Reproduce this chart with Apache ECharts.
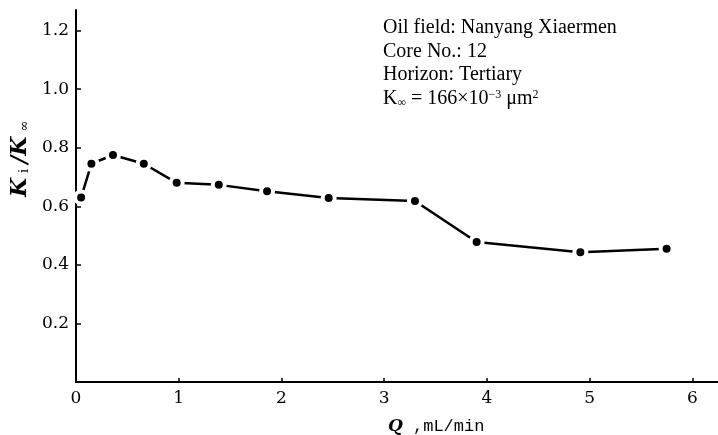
<!DOCTYPE html>
<html>
<head>
<meta charset="utf-8">
<script src="https://cdn.jsdelivr.net/npm/echarts@6/dist/echarts.min.js"></script>
<style>
  html, body { margin: 0; padding: 0; background: #fff; }
  #chart { width: 718px; height: 435px; }
</style>
</head>
<body>
<div id="chart"></div>
<script>
// Flow rate Q (mL/min) and permeability ratio Ki/K∞
const flowRate = [0.05, 0.15, 0.36, 0.66, 0.98, 1.39, 1.86, 2.46, 3.30, 3.90, 4.91, 5.75];
const permRatio = [0.63, 0.745, 0.775, 0.745, 0.68, 0.673, 0.651, 0.628, 0.618, 0.478, 0.443, 0.455];
const xTicks = [0, 1, 2, 3, 4, 5, 6];
const yTicks = [0.2, 0.4, 0.6, 0.8, 1.0, 1.2];
const infoLines = [
  'Oil field: Nanyang Xiaermen',
  'Core No.: 12',
  'Horizon: Tertiary'
];

const serif = '"DejaVu Serif", serif';
const times = '"Liberation Serif", "Times New Roman", serif';

const chart = echarts.init(document.getElementById('chart'));

const infoLeft = 383;
const infoText = infoLines.map((t, i) => ({
  type: 'text',
  left: infoLeft,
  top: 18 + i * 23.5,
  style: { text: t, font: '20px ' + times, fill: '#000' }
}));

chart.setOption({
  animation: false,
  backgroundColor: '#fff',
  grid: { left: 76, top: 10, right: 0, bottom: 53, containLabel: false },
  xAxis: {
    type: 'value',
    min: 0,
    max: 6.25,
    interval: 1,
    splitLine: { show: false },
    axisLine: { lineStyle: { color: '#000', width: 2 } },
    axisTick: { inside: true, length: 4, lineStyle: { color: '#000', width: 1.5 }, customValues: xTicks },
    axisLabel: {
      customValues: xTicks,
      color: '#000', fontFamily: serif, fontSize: 17, margin: 8,
      formatter: v => String(v)
    }
  },
  yAxis: {
    type: 'value',
    min: 0,
    max: 1.27,
    interval: 0.2,
    splitLine: { show: false },
    axisLine: { lineStyle: { color: '#000', width: 2 } },
    axisTick: { inside: true, length: 5, lineStyle: { color: '#000', width: 1.5 }, customValues: yTicks },
    axisLabel: {
      customValues: yTicks,
      color: '#000', fontFamily: serif, fontSize: 17, margin: 7,
      formatter: v => v.toFixed(1)
    }
  },
  series: [{
    type: 'line',
    data: flowRate.map((x, i) => [x, permRatio[i]]),
    symbol: 'circle',
    symbolSize: 12,
    itemStyle: { color: '#000', borderColor: '#fff', borderWidth: 4 },
    lineStyle: { color: '#000', width: 2.5 },
    z: 3
  }],
  graphic: [
    ...infoText,
    {
      type: 'text',
      left: infoLeft,
      top: 18 + 3 * 23.5,
      style: {
        text: 'K{sub|∞} = 166×10{sup|−3} μm{sup|2}',
        font: '20px ' + times,
        fill: '#000',
        rich: {
          sub: { fontFamily: times, fontSize: 12, verticalAlign: 'bottom', padding: [6, 0, 0, 0] },
          sup: { fontFamily: times, fontSize: 12, verticalAlign: 'top', padding: [0, 0, 6, 0] }
        }
      }
    },
    {
      type: 'text',
      x: 9,
      y: 197,
      rotation: Math.PI / 2,
      style: {
        text: '{k|K}{s|i}{k|/K}{s|∞}',
        fill: '#000',
        rich: {
          k: { fontFamily: serif, fontStyle: 'italic', fontWeight: 'bold', fontSize: 22, padding: [0, 3, 0, 0] },
          s: { fontFamily: serif, fontSize: 13, verticalAlign: 'bottom', padding: [6, 5, 0, 2] }
        }
      }
    },
    {
      type: 'text',
      left: 388,
      top: 418,
      style: {
        text: '{q|Q}{t| ,mL/min}',
        fill: '#000',
        rich: {
          q: { fontFamily: serif, fontStyle: 'italic', fontWeight: 'bold', fontSize: 17 },
          t: { fontFamily: '"Liberation Mono", monospace', fontSize: 17 }
        }
      }
    }
  ]
});
</script>
</body>
</html>
